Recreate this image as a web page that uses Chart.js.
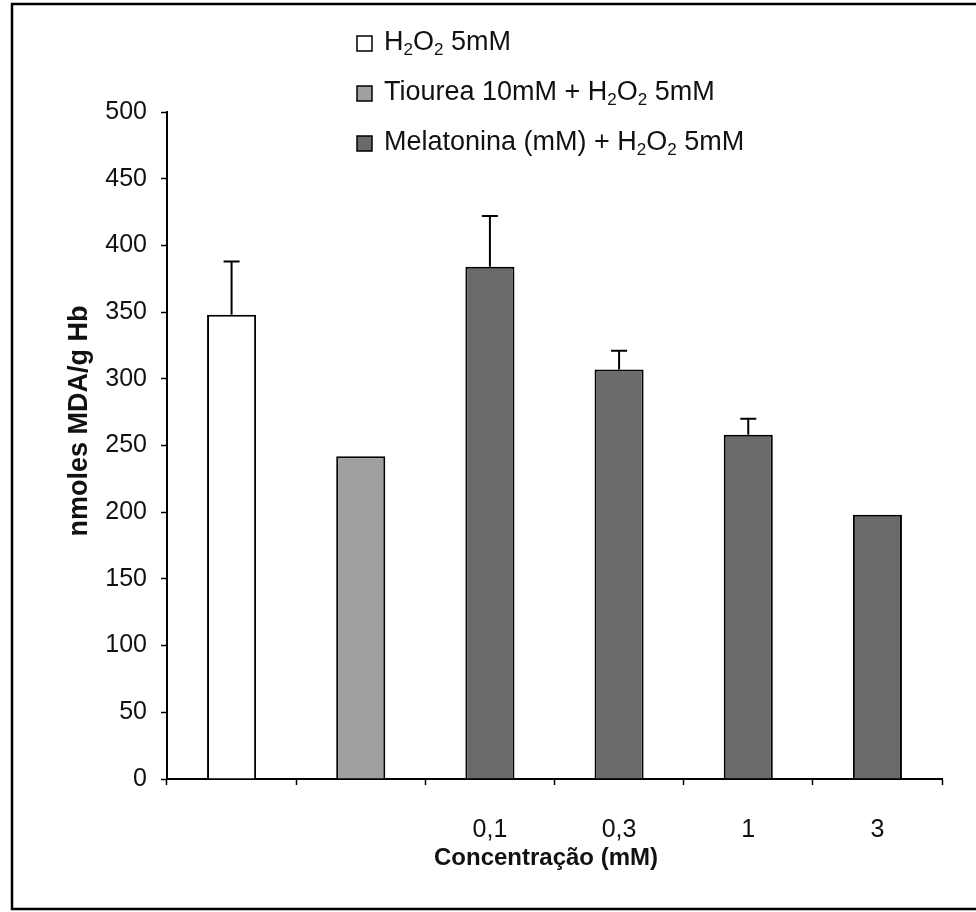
<!DOCTYPE html>
<html>
<head>
<meta charset="utf-8">
<script src="https://cdn.jsdelivr.net/npm/chart.js@4/dist/chart.umd.min.js"></script>
<style>
  html, body { margin: 0; padding: 0; background: #ffffff; }
  canvas { display: block; }
</style>
</head>
<body>
<canvas id="chart" width="976" height="912"></canvas>
<script>
// Categories along the x axis (first two groups carry no label)
const categories = ['', '', '0,1', '0,3', '1', '3'];

// Series names
const seriesNames = ['H₂O₂ 5mM', 'Tiourea 10mM + H₂O₂ 5mM', 'Melatonina (mM) + H₂O₂ 5mM'];

// MDA (nmoles/g Hb) per group
const h2o2Values       = [348, null, null, null, null, null];
const tioureaValues    = [null, 242, null, null, null, null];
const melatoninaValues = [null, null, 384, 307, 258, 198];

// Standard errors (upper whisker)
const h2o2Errors       = [40, null, null, null, null, null];
const tioureaErrors    = [null, 0, null, null, null, null];
const melatoninaErrors = [null, null, 38, 14, 12, 0];

// Y axis ticks
const yTicks = [0, 50, 100, 150, 200, 250, 300, 350, 400, 450, 500];

const FONT = "'Liberation Sans', Arial, Helvetica, sans-serif";
const fillColors = ['#ffffff', '#a0a0a0', '#6a6a6a'];
const errorSets = [h2o2Errors, tioureaErrors, melatoninaErrors];

// Text with subscript "₂" drawn as a smaller, lowered "2"
function drawRich(ctx, text, x, y, size, weight) {
  let cx = x;
  let run = '';
  const flush = () => {
    if (!run) return;
    ctx.font = `${weight} ${size}px ${FONT}`;
    ctx.fillText(run, cx, y);
    cx += ctx.measureText(run).width;
    run = '';
  };
  for (const ch of text) {
    if (ch === '₂') {
      flush();
      const s = Math.round(size * 0.62);
      ctx.font = `${weight} ${s}px ${FONT}`;
      ctx.fillText('2', cx, y + size * 0.28);
      cx += ctx.measureText('2').width;
    } else {
      run += ch;
    }
  }
  flush();
}

// Error whiskers above each bar
const errorBars = {
  id: 'errorBars',
  afterDatasetsDraw(chart) {
    const ctx = chart.ctx;
    const yScale = chart.scales.y;
    ctx.save();
    ctx.strokeStyle = '#000';
    ctx.lineWidth = 2;
    chart.data.datasets.forEach((ds, di) => {
      const meta = chart.getDatasetMeta(di);
      meta.data.forEach((bar, i) => {
        const v = ds.data[i];
        const e = errorSets[di][i];
        if (v == null || !e) return;
        const yTop = yScale.getPixelForValue(v + e);
        const yBar = yScale.getPixelForValue(v);
        ctx.beginPath();
        ctx.moveTo(bar.x, yBar);
        ctx.lineTo(bar.x, yTop);
        ctx.moveTo(bar.x - 8, yTop);
        ctx.lineTo(bar.x + 8, yTop);
        ctx.stroke();
      });
    });
    ctx.restore();
  }
};

// Legend, axis titles and page frame
const decorations = {
  id: 'decorations',
  afterDraw(chart) {
    const ctx = chart.ctx;
    ctx.save();

    // frame
    ctx.strokeStyle = '#000';
    ctx.lineWidth = 2.5;
    ctx.beginPath();
    ctx.moveTo(980, 4);
    ctx.lineTo(12, 4);
    ctx.lineTo(12, 909);
    ctx.lineTo(980, 909);
    ctx.stroke();

    // legend
    const lx = 357;
    const rows = [43, 93, 143];
    ctx.textBaseline = 'middle';
    ctx.textAlign = 'left';
    chart.data.datasets.forEach((ds, i) => {
      const y = rows[i];
      ctx.fillStyle = ds.backgroundColor;
      ctx.fillRect(lx, y - 7, 15, 15);
      ctx.lineWidth = 1.5;
      ctx.strokeStyle = '#000';
      ctx.strokeRect(lx, y - 7, 15, 15);
      ctx.fillStyle = '#111';
      drawRich(ctx, ds.label, lx + 27, y, 27, 'normal');
    });

    // y axis title
    ctx.fillStyle = '#111';
    ctx.save();
    ctx.translate(80, 421);
    ctx.rotate(-Math.PI / 2);
    ctx.textAlign = 'center';
    ctx.textBaseline = 'middle';
    ctx.font = `bold 27px ${FONT}`;
    ctx.fillText('nmoles MDA/g Hb', 0, 0);
    ctx.restore();

    // x axis title
    ctx.textAlign = 'center';
    ctx.textBaseline = 'middle';
    ctx.font = `bold 24px ${FONT}`;
    ctx.fillText('Concentração (mM)', 546, 858);

    ctx.restore();
  }
};

const datasets = [h2o2Values, tioureaValues, melatoninaValues].map((vals, i) => ({
  label: seriesNames[i],
  data: vals,
  backgroundColor: fillColors[i],
  borderColor: '#000',
  borderWidth: 2,
  borderSkipped: 'bottom',
  barPercentage: 0.38,
  categoryPercentage: 1.0
}));

new Chart(document.getElementById('chart'), {
  type: 'bar',
  data: { labels: categories, datasets },
  options: {
    responsive: false,
    animation: false,
    skipNull: true,
    layout: { padding: { top: 112, right: 34, left: 0, bottom: 0 } },
    plugins: {
      legend: { display: false },
      tooltip: { enabled: false },
      title: { display: false }
    },
    scales: {
      x: {
        offset: true,
        afterFit(scale) { scale.height = 133; },
        grid: {
          offset: true,
          drawOnChartArea: false,
          drawTicks: true,
          tickLength: 6,
          tickWidth: 1.5,
          tickColor: '#000'
        },
        border: { display: true, color: '#000', width: 2 },
        ticks: {
          color: '#111',
          padding: 30,
          font: { family: FONT, size: 25 },
          maxRotation: 0,
          autoSkip: false
        }
      },
      y: {
        min: 0,
        max: 500,
        afterFit(scale) { scale.width = 167; },
        afterBuildTicks(scale) { scale.ticks = yTicks.map(v => ({ value: v })); },
        grid: {
          drawOnChartArea: false,
          drawTicks: true,
          tickLength: 6,
          tickWidth: 1.5,
          tickColor: '#000'
        },
        border: { display: true, color: '#000', width: 2 },
        ticks: {
          color: '#111',
          padding: 14,
          font: { family: FONT, size: 25 }
        }
      }
    }
  },
  plugins: [errorBars, decorations]
});
</script>
</body>
</html>
